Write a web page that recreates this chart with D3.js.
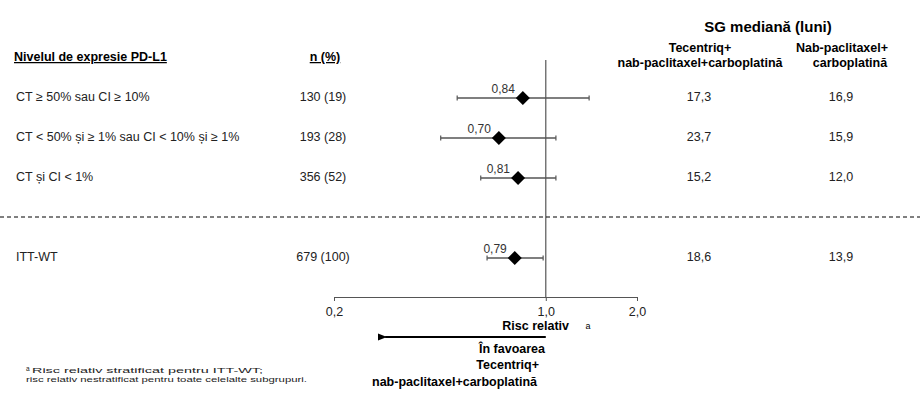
<!DOCTYPE html>
<html><head><meta charset="utf-8">
<script src="https://cdn.jsdelivr.net/npm/d3@7"></script>
<style>
body{margin:0;background:#fff;}
text{font-family:"Liberation Sans",Arial,sans-serif;}
</style></head>
<body>
<svg id="chart" width="920" height="408"></svg>
<script>
// ---- data ----
const categories = ["CT ≥ 50% sau CI ≥ 10%", "CT < 50% și ≥ 1% sau CI < 10% și ≥ 1%", "CT și CI < 1%", "ITT-WT"];
const rowSlots = [0, 1, 2, 4];
const nPct = ["130 (19)", "193 (28)", "356 (52)", "679 (100)"];
const hr = [0.84, 0.70, 0.81, 0.79];
const hrLabels = ["0,84", "0,70", "0,81", "0,79"];
const ciLow = [0.51, 0.45, 0.61, 0.64];
const ciHigh = [1.39, 1.08, 1.08, 0.98];
const osTecentriq = ["17,3", "23,7", "15,2", "18,6"];
const osNab = ["16,9", "15,9", "12,0", "13,9"];
const tickValues = [0.2, 1.0, 2.0];
const tickLabels = ["0,2", "1,0", "2,0"];
const arrowTo = 0.295;

const svg = d3.select("#chart");
const x = d3.scaleLog().domain([0.2, 2]).range([334, 637]);
const y = d3.scaleLinear().domain([0, 4]).range([98, 258]);
const axisY = 297;

// headers
svg.append("text").attr("x", 14).attr("y", 61).attr("font-size", 12.5).attr("font-weight", "bold")
  .attr("text-decoration", "underline").text("Nivelul de expresie PD-L1");
svg.append("text").attr("x", 325).attr("y", 61).attr("font-size", 12.5).attr("font-weight", "bold")
  .attr("text-anchor", "middle").attr("text-decoration", "underline").text("n (%)");
svg.append("text").attr("x", 768).attr("y", 32).attr("font-size", 15).attr("font-weight", "bold")
  .attr("text-anchor", "middle").text("SG mediană (luni)");
[["Tecentriq+", 700, 52], ["nab-paclitaxel+carboplatină", 700, 67], ["Nab-paclitaxel+", 842, 52], ["carboplatină", 850, 67]]
  .forEach(([t, xx, yy]) => svg.append("text").attr("x", xx).attr("y", yy).attr("font-size", 12.5)
    .attr("font-weight", "bold").attr("text-anchor", "middle").text(t));

// reference line at 1
svg.append("line").attr("x1", x(1)).attr("x2", x(1)).attr("y1", 60).attr("y2", axisY)
  .attr("stroke", "#555").attr("stroke-width", 1.2);

// dashed separator
svg.append("line").attr("x1", 0).attr("x2", 920).attr("y1", 217).attr("y2", 217)
  .attr("stroke", "#000").attr("stroke-width", 1).attr("stroke-dasharray", "4,3");

// rows
const rows = svg.selectAll("g.row").data(categories).join("g").attr("class", "row")
  .attr("transform", (d, i) => `translate(0,${y(rowSlots[i])})`);

rows.append("text").attr("x", 16).attr("y", -1).attr("dominant-baseline", "central")
  .attr("font-size", 12.5).attr("fill", "#222").text(d => d);
rows.append("text").attr("x", 323).attr("y", -1).attr("dominant-baseline", "central")
  .attr("text-anchor", "middle").attr("font-size", 12.5).attr("fill", "#222").text((d, i) => nPct[i]);
rows.append("text").attr("x", 699).attr("y", -1).attr("dominant-baseline", "central")
  .attr("text-anchor", "middle").attr("font-size", 12.5).attr("fill", "#222").text((d, i) => osTecentriq[i]);
rows.append("text").attr("x", 841).attr("y", -1).attr("dominant-baseline", "central")
  .attr("text-anchor", "middle").attr("font-size", 12.5).attr("fill", "#222").text((d, i) => osNab[i]);

// CI lines
rows.append("line").attr("x1", (d, i) => x(ciLow[i])).attr("x2", (d, i) => x(ciHigh[i]))
  .attr("stroke", "#555").attr("stroke-width", 1.3);
rows.append("line").attr("x1", (d, i) => x(ciLow[i])).attr("x2", (d, i) => x(ciLow[i]))
  .attr("y1", -2.5).attr("y2", 2.5).attr("stroke", "#555").attr("stroke-width", 1.2);
rows.append("line").attr("x1", (d, i) => x(ciHigh[i])).attr("x2", (d, i) => x(ciHigh[i]))
  .attr("y1", -2.5).attr("y2", 2.5).attr("stroke", "#555").attr("stroke-width", 1.2);

// diamonds
rows.append("path").attr("d", "M0,-7L7,0L0,7L-7,0Z").attr("fill", "#000")
  .attr("transform", (d, i) => `translate(${x(hr[i])},0)`);
rows.append("text").attr("x", (d, i) => x(hr[i]) - 8).attr("y", -5)
  .attr("text-anchor", "end").attr("font-size", 12).attr("fill", "#333").text((d, i) => hrLabels[i]);

// axis
const axis = d3.axisBottom(x).tickValues(tickValues).tickSize(4).tickSizeOuter(0).tickPadding(6)
  .tickFormat((d, i) => tickLabels[i]);
const ag = svg.append("g").attr("transform", `translate(0,${axisY})`).call(axis);
ag.select(".domain").attr("stroke", "#555");
ag.selectAll(".tick line").attr("stroke", "#555");
ag.selectAll(".tick text").attr("font-size", 12.5).attr("fill", "#222")
  .attr("font-family", "'Liberation Sans', Arial, sans-serif");

// axis title
svg.append("text").attr("x", 569).attr("y", 330).attr("font-size", 12.5).attr("font-weight", "bold")
  .attr("text-anchor", "end").text("Risc relativ");
svg.append("text").attr("x", 588).attr("y", 329).attr("font-size", 9).attr("text-anchor", "middle").text("a");

// arrow
svg.append("defs").append("marker").attr("id", "ah").attr("viewBox", "0 0 10 10").attr("refX", 2).attr("refY", 5)
  .attr("markerWidth", 5).attr("markerHeight", 5).attr("orient", "auto")
  .append("path").attr("d", "M10,1L0,5L10,9Z").attr("fill", "#000");
svg.append("line").attr("x1", x(1)).attr("x2", x(arrowTo)).attr("y1", 337).attr("y2", 337)
  .attr("stroke", "#000").attr("stroke-width", 1.8).attr("marker-end", "url(#ah)");

[["În favoarea", 545, 353], ["Tecentriq+", 539, 369], ["nab-paclitaxel+carboplatină", 537, 386]]
  .forEach(([t, xx, yy]) => svg.append("text").attr("x", xx).attr("y", yy).attr("font-size", 12.5)
    .attr("font-weight", "bold").attr("text-anchor", "end").text(t));

// footnote
svg.append("text").attr("x", 26).attr("y", 371).attr("font-size", 6.5).attr("fill", "#222").text("a");
svg.append("text").attr("x", 32).attr("y", 373).attr("font-size", 8).attr("fill", "#222")
  .attr("textLength", 231).attr("lengthAdjust", "spacingAndGlyphs")
  .text("Risc relativ stratificat pentru ITT-WT;");
svg.append("text").attr("x", 26).attr("y", 382).attr("font-size", 8).attr("fill", "#222")
  .attr("textLength", 281).attr("lengthAdjust", "spacingAndGlyphs")
  .text("risc relativ nestratificat pentru toate celelalte subgrupuri.");
</script>
</body></html>
